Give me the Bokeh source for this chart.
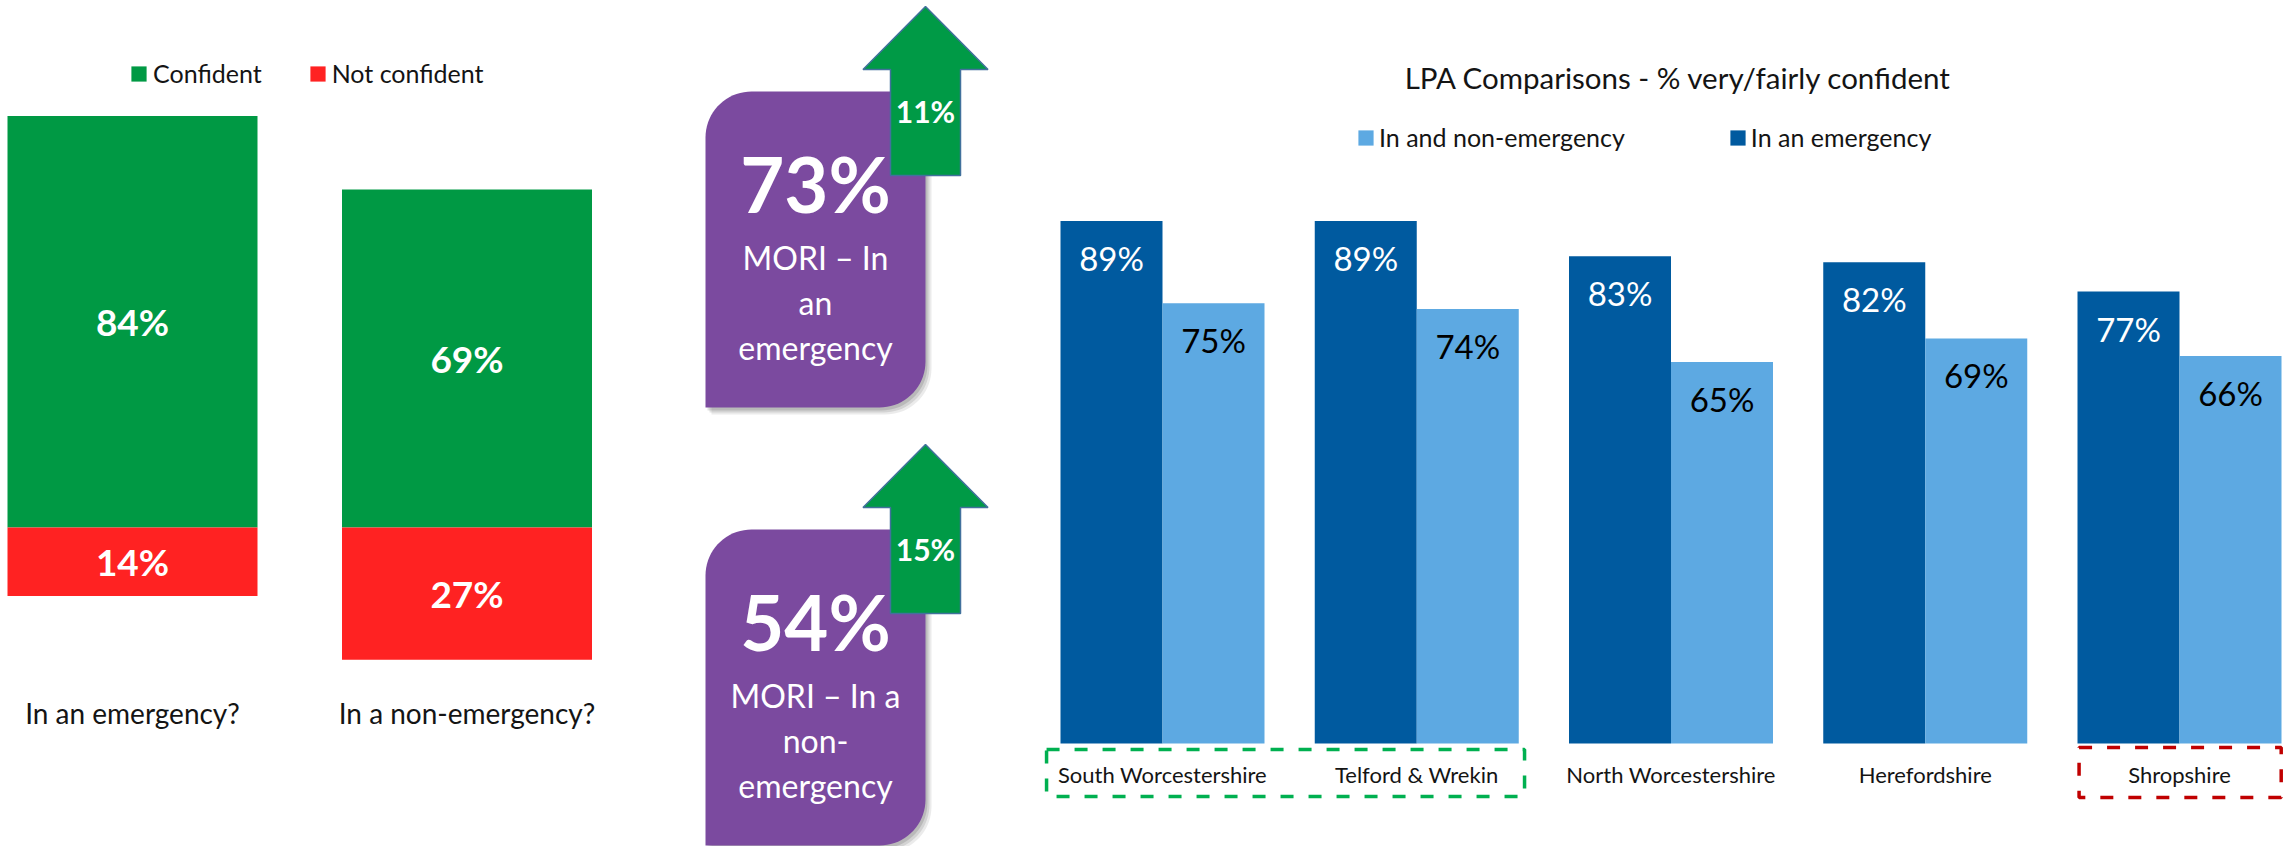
import numpy as np
from bokeh.plotting import figure
from bokeh.layouts import row
from bokeh.models import Range1d, ColumnDataSource, Legend, LegendItem
from bokeh.core.properties import value
from bokeh.embed import file_html
from bokeh.resources import INLINE

# ---------------- data ----------------
question_cats = ["In an emergency?", "In a non-emergency?"]
confident_pct = [84, 69]
not_confident_pct = [14, 27]
confidence_series = ["Confident", "Not confident"]

mori_headline = [73, 54]
mori_caption = [["MORI \u2013 In", "an", "emergency"], ["MORI \u2013 In a", "non-", "emergency"]]
mori_increase = [11, 15]

lpa_title = "LPA Comparisons - % very/fairly confident"
lpa_areas = ["South Worcestershire", "Telford & Wrekin", "North Worcestershire", "Herefordshire", "Shropshire"]
lpa_emergency = [89, 89, 83, 82, 77]
lpa_non_emergency = [75, 74, 65, 69, 66]
lpa_series = ["In and non-emergency", "In an emergency"]
lpa_best = ["South Worcestershire", "Telford & Wrekin"]
lpa_worst = ["Shropshire"]

# ---------------- style ----------------
FONT = "Lato"
H = 846
GREEN = "#009944"
RED = "#FF2222"
DARK_BLUE = "#005A9F"
LIGHT_BLUE = "#5DA9E2"
PURPLE = "#7B4A9F"
ARROW_GREEN = "#009A46"
ARROW_EDGE = "#41719C"
TEXT = "#141414"


def make_fig(width, x_range, y_range):
    p = figure(width=width, height=H, x_range=x_range, y_range=y_range,
               output_backend="svg", toolbar_location=None,
               x_axis_location=None, y_axis_location=None,
               min_border=0, outline_line_color=None,
               background_fill_color="white", border_fill_color="white")
    p.xgrid.grid_line_color = None
    p.ygrid.grid_line_color = None
    return p


# ================= left: confident / not confident =================
W1 = 680
L_PITCH, L_C0, L_ZERO, L_SCALE, L_BARW = 334.5, 132.0, 527.0, 4.9, 250.0
p1 = make_fig(W1, Range1d(-L_C0 / L_PITCH, (W1 - L_C0) / L_PITCH),
              Range1d(-(H - L_ZERO) / L_SCALE, L_ZERO / L_SCALE))
idx1 = np.arange(len(question_cats))
src1 = ColumnDataSource(dict(
    x=idx1,
    conf=confident_pct,
    neg=[-v for v in not_confident_pct],
    conf_mid=[v / 2 for v in confident_pct],
    neg_mid=[-v / 2 for v in not_confident_pct],
    conf_lbl=[f"{v}%" for v in confident_pct],
    neg_lbl=[f"{v}%" for v in not_confident_pct],
    cat=question_cats,
))
r_conf = p1.vbar(x="x", top="conf", bottom=0, width=L_BARW / L_PITCH,
                 fill_color=GREEN, line_color=None, source=src1)
r_not = p1.vbar(x="x", top=0, bottom="neg", width=L_BARW / L_PITCH,
                fill_color=RED, line_color=None, source=src1)
for col_y, col_t in (("conf_mid", "conf_lbl"), ("neg_mid", "neg_lbl")):
    p1.text(x="x", y=col_y, text=col_t, source=src1, text_font=value(FONT),
            text_font_style="bold", text_font_size="37px", text_color="white",
            text_align="center", text_baseline="middle")
p1.text(x="x", y=-(712 - L_ZERO) / L_SCALE, text="cat", source=src1,
        text_font=value(FONT), text_font_size="28px", text_color=TEXT,
        text_align="center", text_baseline="middle")
leg1 = Legend(items=[LegendItem(label=confidence_series[0], renderers=[r_conf]),
                     LegendItem(label=confidence_series[1], renderers=[r_not])],
              orientation="horizontal", location=(129, 758),
              glyph_width=19, glyph_height=19, label_standoff=5, spacing=46,
              padding=0, margin=0, border_line_color=None,
              background_fill_alpha=0, label_text_font=FONT,
              label_text_font_size="25px", label_text_color=TEXT)
p1.add_layout(leg1)

# ================= middle: MORI cards =================
W2 = 350
p2 = make_fig(W2, Range1d(0, W2), Range1d(H, 0))
CARD_X0, CARD_X1, CARD_H, CARD_R = 25, 245, 316, 46
CARD_TOPS = [91, 529]
ARROW_CX, HEAD_H, HEAD_HW, SHAFT_HW, ARROW_LEN = 245, 63, 62.5, 35, 169
ARROW_TIPS = [6, 444]


def card_outline(x0, y0, x1, y1, r):
    t = np.linspace(0, np.pi / 2, 20)
    tl_x = x0 + r - r * np.cos(t)
    tl_y = y0 + r - r * np.sin(t)
    br_x = x1 - r + r * np.cos(t)
    br_y = y1 - r + r * np.sin(t)
    xs = list(tl_x) + [x1] + list(br_x) + [x0]
    ys = list(tl_y) + [y0] + list(br_y) + [y1]
    return xs, ys


def arrow_outline(cx, tip):
    xs = [cx, cx + HEAD_HW, cx + SHAFT_HW, cx + SHAFT_HW, cx - SHAFT_HW, cx - SHAFT_HW, cx - HEAD_HW]
    ys = [tip, tip + HEAD_H, tip + HEAD_H, tip + ARROW_LEN, tip + ARROW_LEN, tip + HEAD_H, tip + HEAD_H]
    return xs, ys


for k, top in enumerate(CARD_TOPS):
    for (dx, dy, a) in ((6, 7, 0.08), (4, 5, 0.10), (2, 3, 0.12)):
        sx, sy = card_outline(CARD_X0 + dx, top + dy, CARD_X1 + dx, top + CARD_H + dy, CARD_R)
        p2.patch(sx, sy, fill_color="black", fill_alpha=a, line_color=None)
    cx_, cy_ = card_outline(CARD_X0, top, CARD_X1, top + CARD_H, CARD_R)
    p2.patch(cx_, cy_, fill_color=PURPLE, line_color=None)
    ax, ay = arrow_outline(ARROW_CX, ARROW_TIPS[k])
    p2.patch(ax, ay, fill_color=ARROW_GREEN, line_color=ARROW_EDGE, line_width=1.5)

    mid = (CARD_X0 + CARD_X1) / 2
    p2.text(x=[mid], y=[top + 92], text=[f"{mori_headline[k]}%"], text_font=value(FONT),
            text_font_style="bold", text_font_size="76px", text_color="white",
            text_align="center", text_baseline="middle")
    for j, line in enumerate(mori_caption[k]):
        p2.text(x=[mid], y=[top + 166 + 45 * j], text=[line], text_font=value(FONT),
                text_font_size="32px", text_color="white",
                text_align="center", text_baseline="middle")
    p2.text(x=[ARROW_CX], y=[ARROW_TIPS[k] + 104], text=[f"{mori_increase[k]}%"],
            text_font=value(FONT), text_font_style="bold", text_font_size="30px",
            text_color="white", text_align="center", text_baseline="middle")

# ================= right: LPA comparisons =================
W3 = 1255
R_C0, R_PITCH, R_ZERO, R_SCALE, R_BARW = 132.0, 254.25, 743.0, 5.87, 102.0
p3 = make_fig(W3, Range1d(-R_C0 / R_PITCH, (W3 - R_C0) / R_PITCH),
              Range1d(-(H - R_ZERO) / R_SCALE, R_ZERO / R_SCALE))
bw = R_BARW / R_PITCH
idx3 = np.arange(len(lpa_areas))
lbl_drop = 37 / R_SCALE
src3 = ColumnDataSource(dict(
    xc=idx3, xd=idx3 - bw / 2, xl=idx3 + bw / 2,
    emg=lpa_emergency, non=lpa_non_emergency,
    emg_lbl=[f"{v}%" for v in lpa_emergency],
    non_lbl=[f"{v}%" for v in lpa_non_emergency],
    emg_y=[v - lbl_drop for v in lpa_emergency],
    non_y=[v - lbl_drop for v in lpa_non_emergency],
    area=lpa_areas,
))
r_emg = p3.vbar(x="xd", top="emg", width=bw, fill_color=DARK_BLUE, line_color=None, source=src3)
r_non = p3.vbar(x="xl", top="non", width=bw, fill_color=LIGHT_BLUE, line_color=None, source=src3)
p3.text(x="xd", y="emg_y", text="emg_lbl", source=src3, text_font=value(FONT),
        text_font_size="33px", text_color="white", text_align="center", text_baseline="middle")
p3.text(x="xl", y="non_y", text="non_lbl", source=src3, text_font=value(FONT),
        text_font_size="33px", text_color="black", text_align="center", text_baseline="middle")
p3.text(x="xc", y=-(774 - R_ZERO) / R_SCALE, text="area", source=src3, text_font=value(FONT),
        text_font_size="22px", text_color=TEXT, text_align="center", text_baseline="middle")
p3.text(x=[(648 - R_C0) / R_PITCH], y=[(R_ZERO - 77) / R_SCALE], text=[lpa_title],
        text_font=value(FONT), text_font_size="29.5px", text_color=TEXT,
        text_align="center", text_baseline="middle")

best_idx = [lpa_areas.index(a) for a in lpa_best]
worst_idx = [lpa_areas.index(a) for a in lpa_worst]
p3.quad(left=[min(best_idx) - 0.456], right=[max(best_idx) + 0.424],
        top=[-(749 - R_ZERO) / R_SCALE], bottom=[-(796 - R_ZERO) / R_SCALE],
        fill_color=None, line_color="#00B050", line_width=3.5, line_dash="13 15")
p3.quad(left=[min(worst_idx) - 0.395], right=[max(worst_idx) + 0.4],
        top=[-(747 - R_ZERO) / R_SCALE], bottom=[-(797 - R_ZERO) / R_SCALE],
        fill_color=None, line_color="#C00000", line_width=3.5, line_dash="13 15")

leg3 = Legend(items=[LegendItem(label=lpa_series[0], renderers=[r_non]),
                     LegendItem(label=lpa_series[1], renderers=[r_emg])],
              orientation="horizontal", location=(326, 694),
              glyph_width=19, glyph_height=19, label_standoff=4, spacing=103,
              padding=0, margin=0, border_line_color=None,
              background_fill_alpha=0, label_text_font=FONT,
              label_text_font_size="25px", label_text_color=TEXT)
p3.add_layout(leg3)

layout = row(p1, p2, p3, spacing=0)
open("out.html", "w").write(file_html(layout, INLINE))
